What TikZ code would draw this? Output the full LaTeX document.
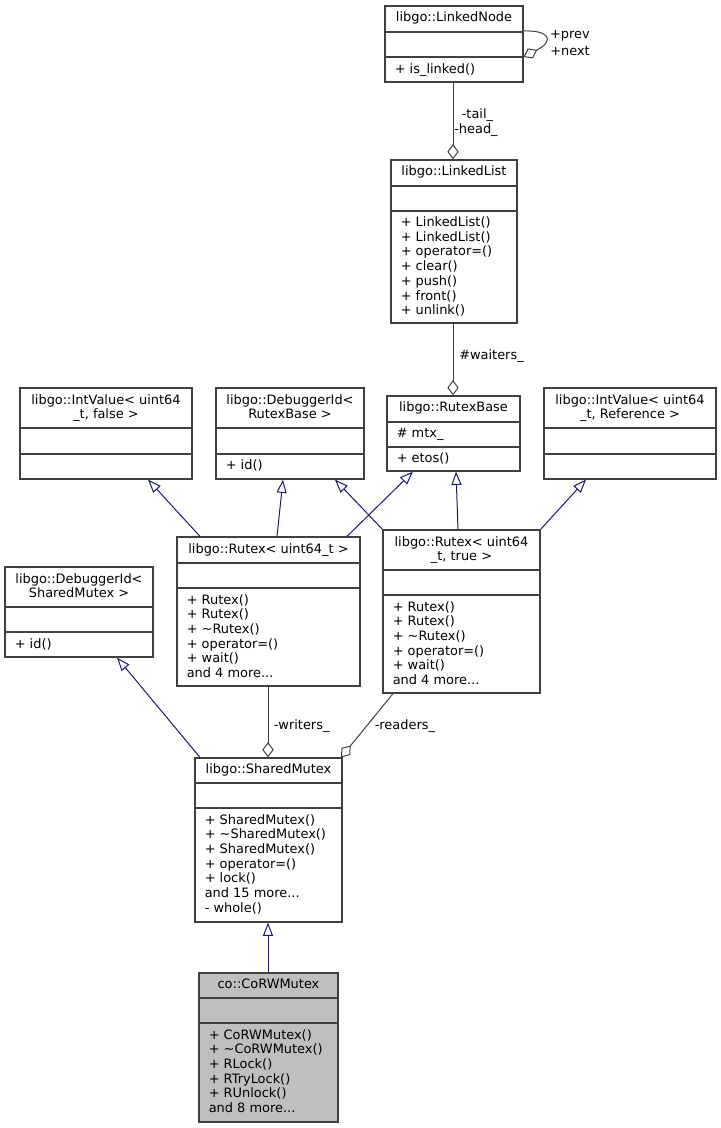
\documentclass[tikz,border=0pt]{standalone}
\usepackage{fontspec}
\setmainfont{DejaVu Sans}
\usetikzlibrary{arrows.meta,fit}
\definecolor{boxc}{HTML}{404040}
\definecolor{inhc}{HTML}{191970}
\definecolor{aggc}{HTML}{404040}
\definecolor{mainfill}{HTML}{BFBFBF}
\newcommand\fs{\fontsize{9.7pt}{11pt}\selectfont}
\newcommand\tdots{...}
\newcommand\ubox[8][white]{%
  \node[cls, fill=#1, fit={(#3,#4) (#5,#6)}] (#2) {};
  \draw[sepl] (#2.west |- 0,#7) -- (#2.east |- 0,#7);
  \draw[sepl] (#2.west |- 0,#8) -- (#2.east |- 0,#8);
}
\newcommand\members[4]{%
  \foreach \m [count=\i] in {#4} \node[mem] (#1-m\i) at (#2, {#3+(\i-1)*14.7}) {\m};
}
\begin{document}
\begin{tikzpicture}[
  x=0.75pt, y=-0.75pt,
  cls/.style={draw=boxc, line width=0.9pt, inner sep=0pt},
  sepl/.style={draw=boxc, line width=0.9pt},
  lbl/.style={inner sep=0pt, font=\fs, text=black},
  ttl/.style={lbl, anchor=base},
  mem/.style={lbl, anchor=base west},
  elbl/.style={lbl, anchor=base west},
  inh/.style={draw=inhc, line width=0.75pt, -{Triangle[open, length=10pt, width=7.5pt]}},
  agg/.style={draw=aggc, line width=0.75pt, -{Diamond[open, length=11.5pt, width=8.5pt]}},
]
\useasboundingbox (0,0) rectangle (721,1128);

% boxes
\ubox{ln}{385}{6}{523}{82}{32}{57}
\ubox{ll}{391}{160}{517}{323}{186}{211}
\ubox{rb}{387}{396}{520}{471}{422}{447}
\ubox{ivf}{20}{388}{192}{479}{428}{454}
\ubox{dbr}{216}{388}{364}{479}{428}{454}
\ubox{ivr}{544}{388}{716}{479}{428}{454}
\ubox{rt}{177}{537}{360}{686}{563}{588}
\ubox{rtt}{383}{530}{540}{693}{570}{595}
\ubox{dbs}{5}{567}{153}{657}{607}{632}
\ubox{sm}{195}{758}{342}{922}{783}{808}
\ubox[mainfill]{co}{199}{973}{338}{1122}{998}{1023}

% titles
\node[ttl] (ln-t) at (454,21.5) {libgo::LinkedNode};
\node[ttl] (ll-t) at (454,175.5) {libgo::LinkedList};
\node[ttl] (rb-t) at (453.5,411.5) {libgo::RutexBase};
\node[ttl] (ivf-t1) at (106,404.5) {libgo::IntValue< uint64};
\node[ttl] (ivf-t2) at (106,418.5) {\_t, false >};
\node[ttl] (dbr-t1) at (290,404.5) {libgo::DebuggerId<};
\node[ttl] (dbr-t2) at (290,418.5) {RutexBase >};
\node[ttl] (ivr-t1) at (630,404.5) {libgo::IntValue< uint64};
\node[ttl] (ivr-t2) at (630,418.5) {\_t, Reference >};
\node[ttl] (rt-t) at (268.5,553) {libgo::Rutex< uint64\_t >};
\node[ttl] (rtt-t1) at (461.5,546.5) {libgo::Rutex< uint64};
\node[ttl] (rtt-t2) at (461.5,560.5) {\_t, true >};
\node[ttl] (dbs-t1) at (79,583.5) {libgo::DebuggerId<};
\node[ttl] (dbs-t2) at (79,597.5) {SharedMutex >};
\node[ttl] (sm-t) at (268.5,773.5) {libgo::SharedMutex};
\node[ttl] (co-t) at (268.5,988.5) {co::CoRWMutex};

% members
\node[mem] (ln-m1) at (394.5,73) {+ is\_linked()};
\members{ll}{400.5}{226.5}{+ LinkedList(),+ LinkedList(),+ operator=(),+ clear(),+ push(),+ front(),+ unlink()}
\node[mem] (rb-a1) at (396.5,437) {\# mtx\_};
\node[mem] (rb-m1) at (396.5,462) {+ etos()};
\node[mem] (dbr-m1) at (225.5,469.5) {+ id()};
\members{rt}{186.5}{604}{+ Rutex(),+ Rutex(),+ \textasciitilde Rutex(),+ operator=(),+ wait(),and 4 more\tdots}
\members{rtt}{392.5}{611}{+ Rutex(),+ Rutex(),+ \textasciitilde Rutex(),+ operator=(),+ wait(),and 4 more\tdots}
\node[mem] (dbs-m1) at (14.5,648) {+ id()};
\members{sm}{204.5}{824}{+ SharedMutex(),+ \textasciitilde SharedMutex(),+ SharedMutex(),+ operator=(),+ lock(),and 15 more\tdots,- whole()}
\members{co}{208.5}{1039}{+ CoRWMutex(),+ \textasciitilde CoRWMutex(),+ RLock(),+ RTryLock(),+ RUnlock(),and 8 more\tdots}

% inheritance edges
\draw[inh] (200,0 |- rt.north) -- (148,0 |- ivf.south);
\draw[inh] (277,0 |- rt.north) -- (283,0 |- dbr.south);
\draw[inh] (347,0 |- rt.north) -- (413,0 |- rb.south);
\draw[inh] (rtt.north west) -- (335,0 |- dbr.south);
\draw[inh] (458,0 |- rtt.north) -- (456,0 |- rb.south);
\draw[inh] (rtt.north east) -- (586,0 |- ivr.south);
\draw[inh] (200,0 |- sm.north) -- (117,0 |- dbs.south);
\draw[inh] (268,0 |- co.north) -- (268,0 |- sm.south);

% aggregation edges
\draw[agg] (ln.east |- 0,31) .. controls (548,30) and (556,40) .. (ln.east |- 0,57);
\node[lbl, anchor=base east] (lbl-prev) at (590,38) {+prev};
\node[lbl, anchor=base east] (lbl-next) at (590,55) {+next};
\draw[agg] (453,0 |- ln.south) -- (453,0 |- ll.north);
\node[elbl] (lbl-tail) at (461.5,118) {-tail\_};
\node[elbl] (lbl-head) at (454,133) {-head\_};
\draw[agg] (453,0 |- ll.south) -- (453,0 |- rb.north);
\node[elbl] (lbl-wait) at (459,359) {\#waiters\_};
\draw[agg] (268,0 |- rt.south) -- (268,0 |- sm.north);
\node[elbl] (lbl-wr) at (273.5,729) {-writers\_};
\draw[agg] (393,0 |- rtt.south) -- (341,0 |- sm.north);
\node[elbl] (lbl-rd) at (374.5,729) {-readers\_};
\end{tikzpicture}
\end{document}
